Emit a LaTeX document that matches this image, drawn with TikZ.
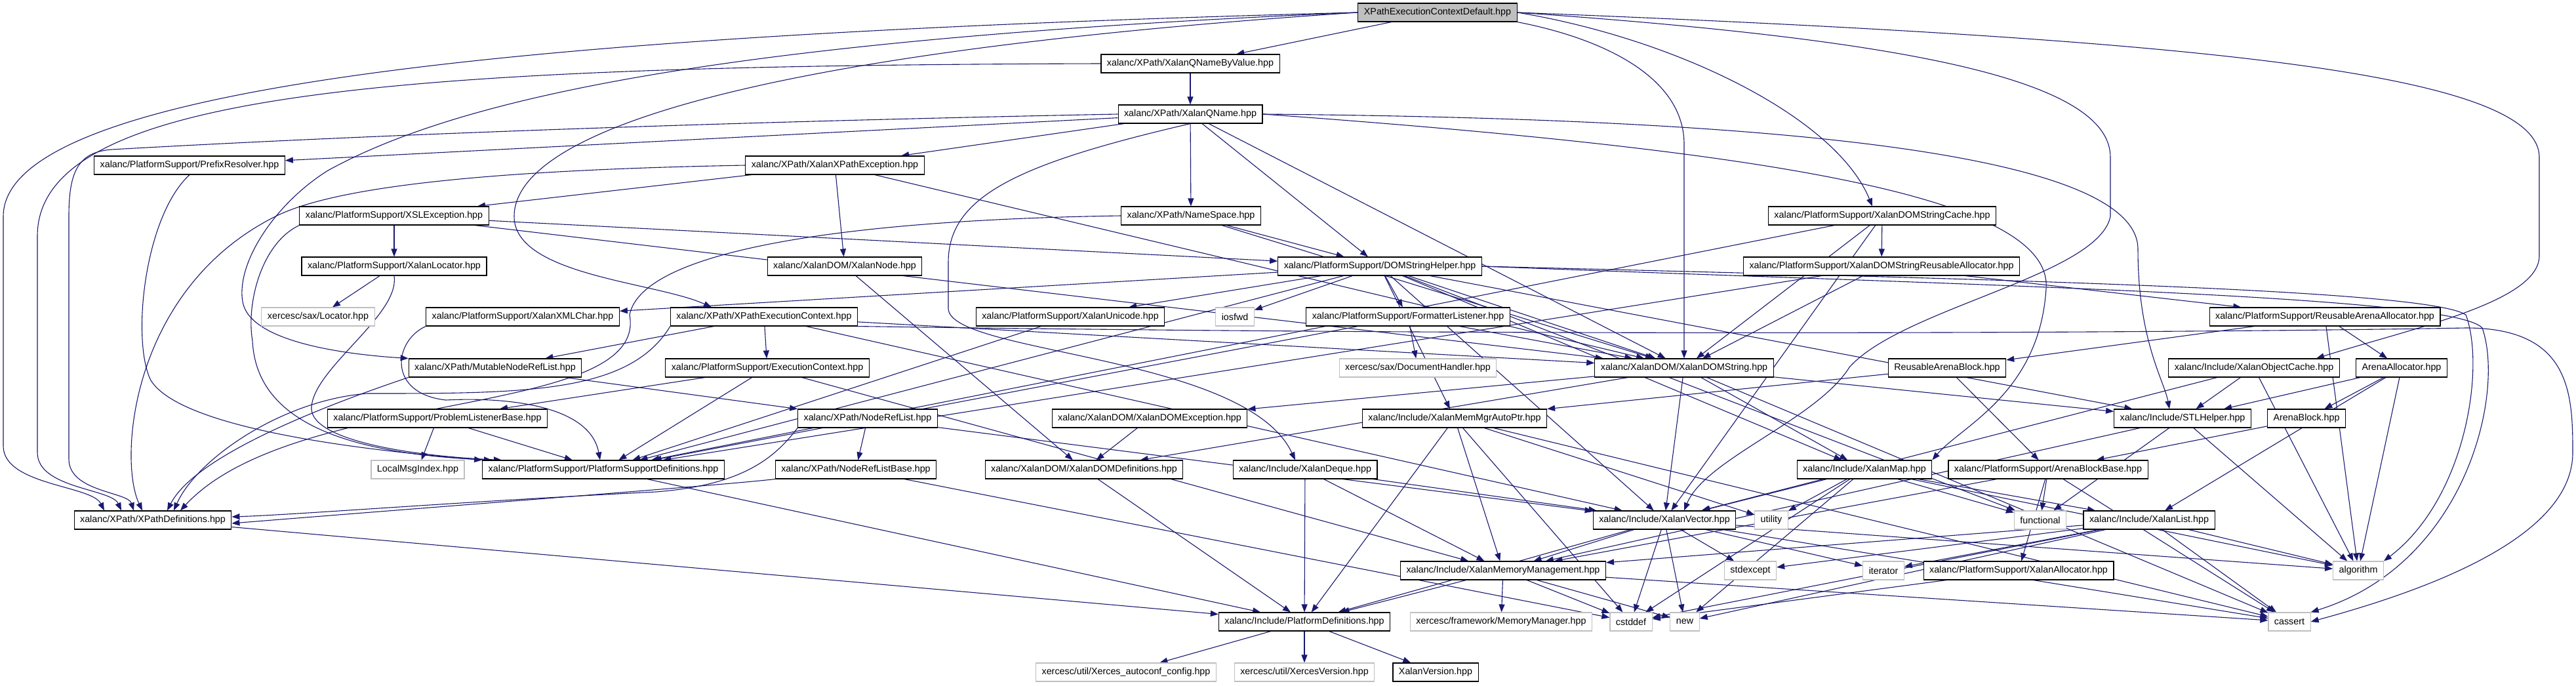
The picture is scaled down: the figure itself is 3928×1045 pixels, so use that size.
\documentclass[tikz,border=0pt]{standalone}
\usepackage{fontspec}
\newfontfamily\dotfont{Liberation Sans}
\usetikzlibrary{arrows.meta,backgrounds}

\definecolor{edgeblue}{HTML}{191970}
\definecolor{grey75}{HTML}{BFBFBF}

\begin{document}
\begin{tikzpicture}[x=1pt,y=-1pt,
	file/.style={draw=black, line width=1.1pt, fill=white, minimum height=28pt,
		inner xsep=9pt, inner ysep=0pt, font={\dotfont\fontsize{14.3}{17}\selectfont}},
	sysfile/.style={file, draw=grey75},
	rootfile/.style={file, fill=grey75},
	dep/.style={draw=edgeblue, line width=1.1pt, -{Triangle[length=12pt,width=9pt]}}]
	
	\useasboundingbox (0,0) rectangle (3928,1045);
	
	% ---- Row 0 ----
	\node[rootfile] (ctxdef) at (2192,19) {XPathExecutionContextDefault.hpp};
	
	% ---- Rows 1 - 2 ----
	\node[file] (qnbv) at (1815,97) {xalanc/XPath/XalanQNameByValue.hpp};
	\node[file] (qname) at (1815,174) {xalanc/XPath/XalanQName.hpp};
	
	% ---- Row 3 ----
	\node[file] (prefix) at (289,252) {xalanc/PlatformSupport/PrefixResolver.hpp};
	\node[file] (xpexc) at (1273,252) {xalanc/XPath/XalanXPathException.hpp};
	
	% ---- Row 4 ----
	\node[file] (xslexc) at (601,329) {xalanc/PlatformSupport/XSLException.hpp};
	\node[file] (nspace) at (1816,329) {xalanc/XPath/NameSpace.hpp};
	\node[file] (strcache) at (2870,329) {xalanc/PlatformSupport/XalanDOMStringCache.hpp};
	
	% ---- Row 5 ----
	\node[file] (locator) at (601,406) {xalanc/PlatformSupport/XalanLocator.hpp};
	\node[file] (xnode) at (1288,406) {xalanc/XalanDOM/XalanNode.hpp};
	\node[file] (dshelper) at (2104,406) {xalanc/PlatformSupport/DOMStringHelper.hpp};
	\node[file] (reusealloc) at (2869,406) {xalanc/PlatformSupport/XalanDOMStringReusableAllocator.hpp};
	
	% ---- Row 6 ----
	\node[sysfile] (saxloc) at (485,483) {xercesc/sax/Locator.hpp};
	\node[file] (xmlchar) at (797,483) {xalanc/PlatformSupport/XalanXMLChar.hpp};
	\node[file] (xpctx) at (1165,483) {xalanc/XPath/XPathExecutionContext.hpp};
	\node[file] (unicode) at (1632,483) {xalanc/PlatformSupport/XalanUnicode.hpp};
	\node[sysfile] (hiosfwd) at (1883,483) {iosfwd};
	\node[file] (fmtlist) at (2147,483) {xalanc/PlatformSupport/FormatterListener.hpp};
	\node[file] (rarenaalloc) at (3545,483) {xalanc/PlatformSupport/ReusableArenaAllocator.hpp};
	
	% ---- Row 7 ----
	\node[file] (mutnrl) at (755,561) {xalanc/XPath/MutableNodeRefList.hpp};
	\node[file] (execctx) at (1170,561) {xalanc/PlatformSupport/ExecutionContext.hpp};
	\node[sysfile] (dochandler) at (2162,561) {xercesc/sax/DocumentHandler.hpp};
	\node[file] (domstring) at (2568,561) {xalanc/XalanDOM/XalanDOMString.hpp};
	\node[file] (rablock) at (2969,561) {ReusableArenaBlock.hpp};
	\node[file] (objcache) at (3437,561) {xalanc/Include/XalanObjectCache.hpp};
	\node[file] (arenaalloc) at (3662,561) {ArenaAllocator.hpp};
	
	% ---- Row 8 ----
	\node[file] (plb) at (667,638) {xalanc/PlatformSupport/ProblemListenerBase.hpp};
	\node[file] (nrl) at (1323,638) {xalanc/XPath/NodeRefList.hpp};
	\node[file] (domexc) at (1753,638) {xalanc/XalanDOM/XalanDOMException.hpp};
	\node[file] (autoptr) at (2218,638) {xalanc/Include/XalanMemMgrAutoPtr.hpp};
	\node[file] (stlhelper) at (3328,638) {xalanc/Include/STLHelper.hpp};
	\node[file] (arenablock) at (3517,638) {ArenaBlock.hpp};
	
	% ---- Row 9 ----
	\node[sysfile] (localmsg) at (637,716) {LocalMsgIndex.hpp};
	\node[file] (psdefs) at (920,716) {xalanc/PlatformSupport/PlatformSupportDefinitions.hpp};
	\node[file] (nrlbase) at (1305,716) {xalanc/XPath/NodeRefListBase.hpp};
	\node[file] (domdefs) at (1653,716) {xalanc/XalanDOM/XalanDOMDefinitions.hpp};
	\node[file] (deque) at (1990,716) {xalanc/Include/XalanDeque.hpp};
	\node[file] (xmap) at (2843,716) {xalanc/Include/XalanMap.hpp};
	\node[file] (abbase) at (3123,716) {xalanc/PlatformSupport/ArenaBlockBase.hpp};
	
	% ---- Row 10 ----
	\node[file] (xpdefs) at (233,793) {xalanc/XPath/XPathDefinitions.hpp};
	\node[file] (vector) at (2538,793) {xalanc/Include/XalanVector.hpp};
	\node[sysfile] (hutility) at (2701,793) {utility};
	\node[sysfile] (hfunctional) at (3111,793) {functional};
	\node[file] (xlist) at (3277,793) {xalanc/Include/XalanList.hpp};
	
	% ---- Row 11 ----
	\node[file] (memmgmt) at (2292,870) {xalanc/Include/XalanMemoryManagement.hpp};
	\node[sysfile] (hstdexcept) at (2669,870) {stdexcept};
	\node[sysfile] (hiterator) at (2872,870) {iterator};
	\node[file] (xallocator) at (3078,870) {xalanc/PlatformSupport/XalanAllocator.hpp};
	\node[sysfile] (halgorithm) at (3596,870) {algorithm};
	
	% ---- Row 12 ----
	\node[file] (platdefs) at (1989,948) {xalanc/Include/PlatformDefinitions.hpp};
	\node[sysfile] (memmgr) at (2289,948) {xercesc/framework/MemoryManager.hpp};
	\node[sysfile] (hcstddef) at (2487,948) {cstddef};
	\node[sysfile] (hnew) at (2569,948) {new};
	\node[sysfile] (hcassert) at (3491,948) {cassert};
	
	% ---- Row 13 ----
	\node[sysfile] (autoconf) at (1717,1025) {xercesc/util/Xerces\_autoconf\_config.hpp};
	\node[sysfile] (xversion) at (1989,1025) {xercesc/util/XercesVersion.hpp};
	\node[file] (xalanversion) at (2189,1025) {XalanVersion.hpp};
	
	\begin{pgfonlayer}{background}
		% ---- Long arcs ----
		\draw[dep] (ctxdef.west) .. controls (900,50) and (5,120) .. (5,330) -- (5,680) .. controls (5,740) and (140,740) .. ([xshift=-74pt]xpdefs.north);
		\draw[dep] (qnbv.west) .. controls (600,100) and (57,140) .. (57,360) -- (57,690) .. controls (57,745) and (170,745) .. ([xshift=-48pt]xpdefs.north);
		\draw[dep] (qname.west) .. controls (900,190) and (400,215) .. (170,228) .. controls (120,232) and (105,260) .. (105,330) -- (105,700) .. controls (105,750) and (195,750) .. ([xshift=-29pt]xpdefs.north);
		\draw[dep] (xpexc.west) .. controls (700,260) and (500,290) .. (420,330) .. controls (200,440) and (180,700) .. ([xshift=-16pt]xpdefs.north);
		\draw[dep] (ctxdef.west) .. controls (1150,80) and (784,200) .. (784,330) .. controls (784,420) and (1000,430) .. ([xshift=-80pt]xpctx.north);
		\draw[dep] (ctxdef.west) .. controls (1100,60) and (700,150) .. (500,260) .. controls (420,310) and (360,400) .. (370,460) .. controls (380,520) and (520,540) .. (mutnrl.north west);
		\draw[dep] (ctxdef.south east) .. controls (2450,60) and (2568,120) .. (2568,220) -- (domstring.north);
		\draw[dep] (ctxdef.east) .. controls (2560,60) and (2800,180) .. ([xshift=-15pt]strcache.north);
		\draw[dep] (ctxdef.east) .. controls (3350,60) and (3872,110) .. (3872,240) -- (3872,390) .. controls (3872,460) and (3680,500) .. ([xshift=95pt]objcache.north);
		\draw[dep] (ctxdef.east) .. controls (2900,60) and (3218,120) .. (3218,240) -- (3218,330) .. controls (3200,420) and (2900,470) .. (2820,560) .. controls (2770,640) and (2600,700) .. ([xshift=30pt]vector.north);
		\draw[dep] (qname.east) .. controls (2600,180) and (3260,220) .. (3260,380) .. controls (3260,520) and (3300,580) .. ([xshift=-20pt]stlhelper.north);
		\draw[dep] (qname.east) .. controls (2700,230) and (3130,300) .. (3120,440) .. controls (3110,600) and (2990,650) .. (xmap.north east);
		\draw[dep] (qname.south) .. controls (1550,250) and (1446,300) .. (1446,400) -- (1446,470) .. controls (1446,540) and (1900,540) .. ([xshift=-15pt]deque.north);
		\draw[dep] (dshelper.east) .. controls (3000,425) and (3700,440) .. (3760,480) .. controls (3790,560) and (3760,760) .. (halgorithm.north east);
		\draw[dep] (dshelper.east) .. controls (3000,435) and (3740,450) .. (3785,500) .. controls (3820,600) and (3760,860) .. (hcassert.north east);
		\draw[dep] (xpctx.south east) .. controls (2500,515) and (3500,505) .. (3760,500) .. controls (3920,500) and (3923,600) .. (3923,690) .. controls (3923,820) and (3700,900) .. (hcassert.east);
		
		% ---- Routed round the left column ----
		\draw[dep] (prefix.south) .. controls (220,330) and (200,520) .. (230,580) .. controls (280,660) and (600,690) .. (psdefs.north west);
		\draw[dep] (xslexc.south west) .. controls (400,370) and (375,460) .. (385,520) .. controls (390,620) and (480,690) .. ([xshift=-170pt]psdefs.north);
		\draw[dep] (locator.south) .. controls (610,480) and (480,560) .. (475,620) .. controls (470,670) and (620,695) .. ([xshift=-155pt]psdefs.north);
		\draw[dep] (xmlchar.south west) .. controls (600,520) and (590,600) .. (680,610) .. controls (780,605) and (900,620) .. ([xshift=-5pt]psdefs.north);
		\draw[dep] (mutnrl.south west) .. controls (520,610) and (300,690) .. ([xshift=22pt]xpdefs.north);
		\draw[dep] (xpctx.south west) .. controls (960,600) and (800,600) .. (560,600) .. controls (430,610) and (300,700) .. ([xshift=32pt]xpdefs.north);
		\draw[dep] (nspace.west) .. controls (1300,335) and (980,380) .. (960,480) .. controls (990,640) and (450,590) .. ([xshift=42pt]xpdefs.north);
		\draw[dep] (nrl.south west) .. controls (1180,700) and (1130,740) .. (1000,750) .. controls (700,765) and (450,785) .. ([yshift=5pt]xpdefs.east);
		\draw[dep] (nrlbase.south west) .. controls (1100,740) and (700,770) .. ([yshift=-5pt]xpdefs.east);
		
		% ---- Direct includes ----
		\foreach \from/\to in {
			ctxdef/qnbv, qnbv/qname,
			qname/prefix, qname/xpexc, qname/nspace, qname/dshelper, qname/domstring,
			xpexc/xslexc, xpexc/xnode, xpexc/domstring,
			xslexc/locator, xslexc/dshelper, xslexc/domstring,
			nspace/dshelper, nspace/domstring,
			strcache/reusealloc, strcache/domstring, strcache/vector, strcache/psdefs,
			locator/saxloc, xnode/domdefs,
			dshelper/psdefs, dshelper/xmlchar, dshelper/unicode, dshelper/hiosfwd,
			dshelper/fmtlist, dshelper/domstring, dshelper/autoptr, dshelper/vector,
			dshelper/xmap, dshelper/stlhelper, dshelper/hfunctional,
			reusealloc/psdefs, reusealloc/domstring, reusealloc/rarenaalloc,
			unicode/psdefs,
			xpctx/execctx, xpctx/mutnrl, xpctx/domstring, xpctx/vector,
			fmtlist/psdefs, fmtlist/dochandler, fmtlist/domstring,
			rarenaalloc/rablock, rarenaalloc/arenaalloc, rarenaalloc/halgorithm,
			mutnrl/nrl,
			execctx/plb, execctx/psdefs, execctx/memmgmt,
			domstring/domdefs, domstring/domexc, domstring/vector, domstring/xmap,
			domstring/stlhelper, domstring/hcassert,
			rablock/abbase, rablock/autoptr,
			objcache/vector, objcache/stlhelper, objcache/halgorithm,
			arenaalloc/stlhelper, arenaalloc/arenablock, arenaalloc/xlist, arenaalloc/halgorithm,
			plb/localmsg, plb/psdefs,
			nrl/nrlbase, nrl/vector,
			domexc/domdefs,
			autoptr/platdefs, autoptr/memmgmt, autoptr/hcstddef, autoptr/hutility, autoptr/hcassert,
			stlhelper/hfunctional, stlhelper/halgorithm, stlhelper/memmgmt,
			arenablock/abbase, psdefs/platdefs,
			nrlbase/hcstddef,
			domdefs/platdefs,
			deque/vector, deque/memmgmt, deque/platdefs,
			xmap/vector, xmap/hutility, xmap/hnew, xmap/hcstddef, xmap/hfunctional,
			xmap/xlist, xmap/halgorithm,
			abbase/hfunctional, abbase/xallocator, abbase/hcassert, abbase/memmgmt,
			xpdefs/platdefs,
			vector/platdefs, vector/memmgmt, vector/hcstddef, vector/hnew, vector/hcassert,
			vector/hstdexcept, vector/hiterator, vector/halgorithm,
			xlist/memmgmt, xlist/hstdexcept, xlist/hiterator, xlist/hcstddef, xlist/hnew,
			xlist/hcassert, xlist/halgorithm,
			memmgmt/platdefs, memmgmt/memmgr, memmgmt/hcstddef, memmgmt/hnew, memmgmt/hcassert,
			xallocator/hcstddef,
			platdefs/autoconf, platdefs/xversion, platdefs/xalanversion}
		\draw[dep] (\from) -- (\to);
	\end{pgfonlayer}
	
\end{tikzpicture}
\end{document}
